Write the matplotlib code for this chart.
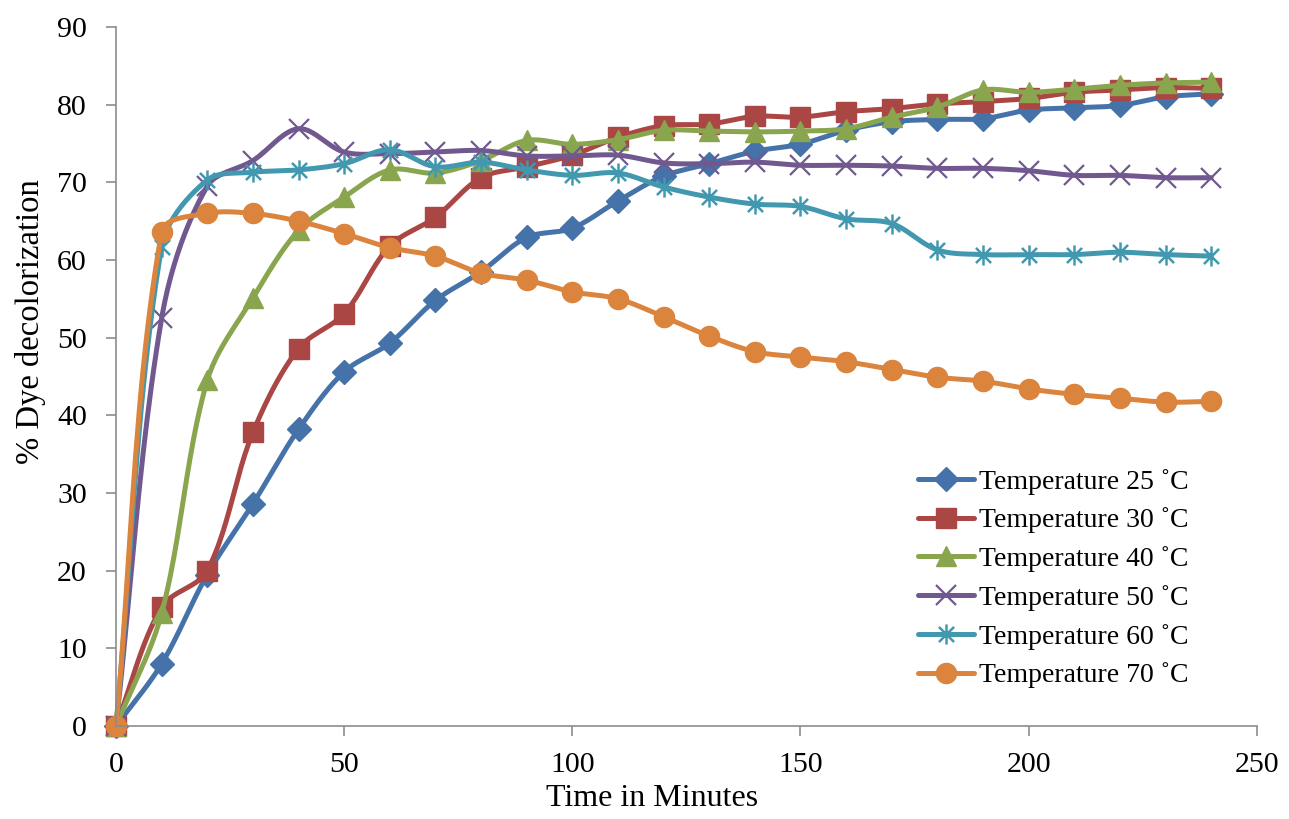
import numpy as np
import matplotlib
matplotlib.use("Agg")
import matplotlib.pyplot as plt
from matplotlib.path import Path

time_min = [0, 10, 20, 30, 40, 50, 60, 70, 80, 90, 100, 110, 120, 130, 140,
            150, 160, 170, 180, 190, 200, 210, 220, 230, 240]

temp_25 = [0, 8.0, 19.5, 28.6, 38.2, 45.6, 49.3, 54.8, 58.5, 62.9, 64.1, 67.6,
           70.8, 72.4, 74.0, 74.9, 76.7, 77.8, 78.1, 78.2, 79.3, 79.6, 79.9, 81.0, 81.4]
temp_30 = [0, 15.3, 20.0, 37.8, 48.6, 53.1, 61.8, 65.5, 70.6, 72.0, 73.5, 75.8,
           77.3, 77.5, 78.5, 78.4, 79.1, 79.5, 80.1, 80.4, 80.8, 81.6, 81.9, 82.2, 82.1]
temp_40 = [0, 14.5, 44.5, 55.1, 63.8, 68.1, 71.6, 71.2, 72.8, 75.4, 74.9, 75.5,
           76.7, 76.6, 76.5, 76.6, 76.9, 78.4, 79.7, 81.9, 81.6, 82.0, 82.5, 82.8, 82.9]
temp_50 = [0, 52.5, 69.5, 72.8, 76.9, 73.9, 73.7, 73.9, 74.1, 73.4, 73.4, 73.5,
           72.5, 72.4, 72.6, 72.2, 72.2, 72.1, 71.8, 71.8, 71.5, 70.9, 70.9, 70.6, 70.6]
temp_60 = [0, 61.7, 70.3, 71.3, 71.6, 72.4, 74.2, 72.0, 72.6, 71.6, 70.9, 71.2,
           69.4, 68.1, 67.2, 66.9, 65.3, 64.7, 61.3, 60.7, 60.7, 60.7, 61.0, 60.7, 60.5]
temp_70 = [0, 63.6, 66.0, 66.0, 65.0, 63.4, 61.6, 60.5, 58.3, 57.4, 55.9, 55.0,
           52.7, 50.2, 48.2, 47.5, 46.9, 45.9, 44.9, 44.4, 43.4, 42.7, 42.2, 41.7, 41.8]

series_labels = ["Temperature 25 ˚C", "Temperature 30 ˚C", "Temperature 40 ˚C",
                 "Temperature 50 ˚C", "Temperature 60 ˚C", "Temperature 70 ˚C"]
x_ticks = [0, 50, 100, 150, 200, 250]
y_ticks = [0, 10, 20, 30, 40, 50, 60, 70, 80, 90]
X_MAX, Y_MAX = 250, 90

# asterisk marker: vertical stroke plus two diagonals
star_path = Path(
    [(0, -1), (0, 1), (-0.75, -0.75), (0.75, 0.75), (-0.75, 0.75), (0.75, -0.75)],
    [Path.MOVETO, Path.LINETO, Path.MOVETO, Path.LINETO, Path.MOVETO, Path.LINETO],
)

styles = [
    dict(color="#4573A9", marker="D", ms=12),
    dict(color="#AA4644", marker="s", ms=14),
    dict(color="#89A54E", marker="^", ms=14.5),
    dict(color="#71588F", marker="x", ms=14, mew=1.6),
    dict(color="#4198AF", marker=star_path, ms=14.5, mew=1.8),
    dict(color="#DB843D", marker="o", ms=14.5),
]

FIG_W, FIG_H, DPI = 12.89, 8.19, 100
AX_RECT = [0.090, 0.1136, 0.885, 0.8534]
N_SEG = 24


def smooth(x, y, n=N_SEG):
    """Bezier smoothing through every point; tangents scaled by adjacent
    segment lengths, computed in display space."""
    sx = FIG_W * DPI * AX_RECT[2] / X_MAX
    sy = FIG_H * DPI * AX_RECT[3] / Y_MAX
    P = np.column_stack([np.asarray(x, float) * sx, np.asarray(y, float) * sy])
    m = len(P)
    c_in = np.zeros_like(P)
    c_out = np.zeros_like(P)
    for i in range(m):
        prev = P[i - 1] if i > 0 else P[i]
        nxt = P[i + 1] if i < m - 1 else P[i]
        d = nxt - prev
        lp = np.hypot(*(P[i] - prev))
        ln = np.hypot(*(nxt - P[i]))
        tot = lp + ln
        c_out[i] = P[i] + d * (ln / tot) / 3.0
        c_in[i] = P[i] - d * (lp / tot) / 3.0
    t = np.linspace(0, 1, n, endpoint=False)[:, None]
    segs = []
    for i in range(m - 1):
        p0, c1, c2, p3 = P[i], c_out[i], c_in[i + 1], P[i + 1]
        segs.append((1 - t) ** 3 * p0 + 3 * (1 - t) ** 2 * t * c1
                    + 3 * (1 - t) * t ** 2 * c2 + t ** 3 * p3)
    segs.append(P[-1:])
    out = np.vstack(segs)
    return out[:, 0] / sx, out[:, 1] / sy


plt.rcParams["font.family"] = ["Liberation Serif", "DejaVu Serif"]

fig = plt.figure(figsize=(FIG_W, FIG_H), dpi=DPI)
ax = fig.add_axes(AX_RECT)

all_series = [temp_25, temp_30, temp_40, temp_50, temp_60, temp_70]
for vals, lab, st in zip(all_series, series_labels, styles):
    sxv, syv = smooth(time_min, vals)
    marks = list(range(0, len(sxv), N_SEG))
    st = dict(st)
    color = st.pop("color")
    if st["marker"] == "x" or st["marker"] is star_path:
        kw = dict(mfc="none", mec=color)
    else:
        kw = dict(mfc=color, mec=color)
    ax.plot(sxv, syv, color=color, lw=3.6, markevery=marks, label=lab,
            clip_on=False, solid_capstyle="round", **kw, **st)

ax.set_xlim(0, X_MAX)
ax.set_ylim(0, Y_MAX)
ax.set_xticks(x_ticks)
ax.set_yticks(y_ticks)
for s in ("top", "right"):
    ax.spines[s].set_visible(False)
for s in ("left", "bottom"):
    ax.spines[s].set_color("#8C8C8C")
    ax.spines[s].set_linewidth(1.2)
ax.tick_params(axis="both", direction="out", length=7, width=1.2,
               color="#8C8C8C", labelsize=21.5, labelcolor="black")
ax.tick_params(axis="x", pad=12)
ax.tick_params(axis="y", pad=14)

ax.set_xlabel("Time in Minutes", fontsize=23, labelpad=4)
ax.set_ylabel("% Dye decolorization", fontsize=23.5, labelpad=8)
ax.xaxis.label.set_x(0.470)
ax.yaxis.label.set_y(0.578)

leg = ax.legend(loc="center left", bbox_to_anchor=(0.703, 0.211), frameon=False,
                fontsize=20, handlelength=2.0, handletextpad=0.18,
                labelspacing=0.46, borderpad=0, borderaxespad=0, numpoints=1)

fig.savefig("out.png", dpi=DPI)
